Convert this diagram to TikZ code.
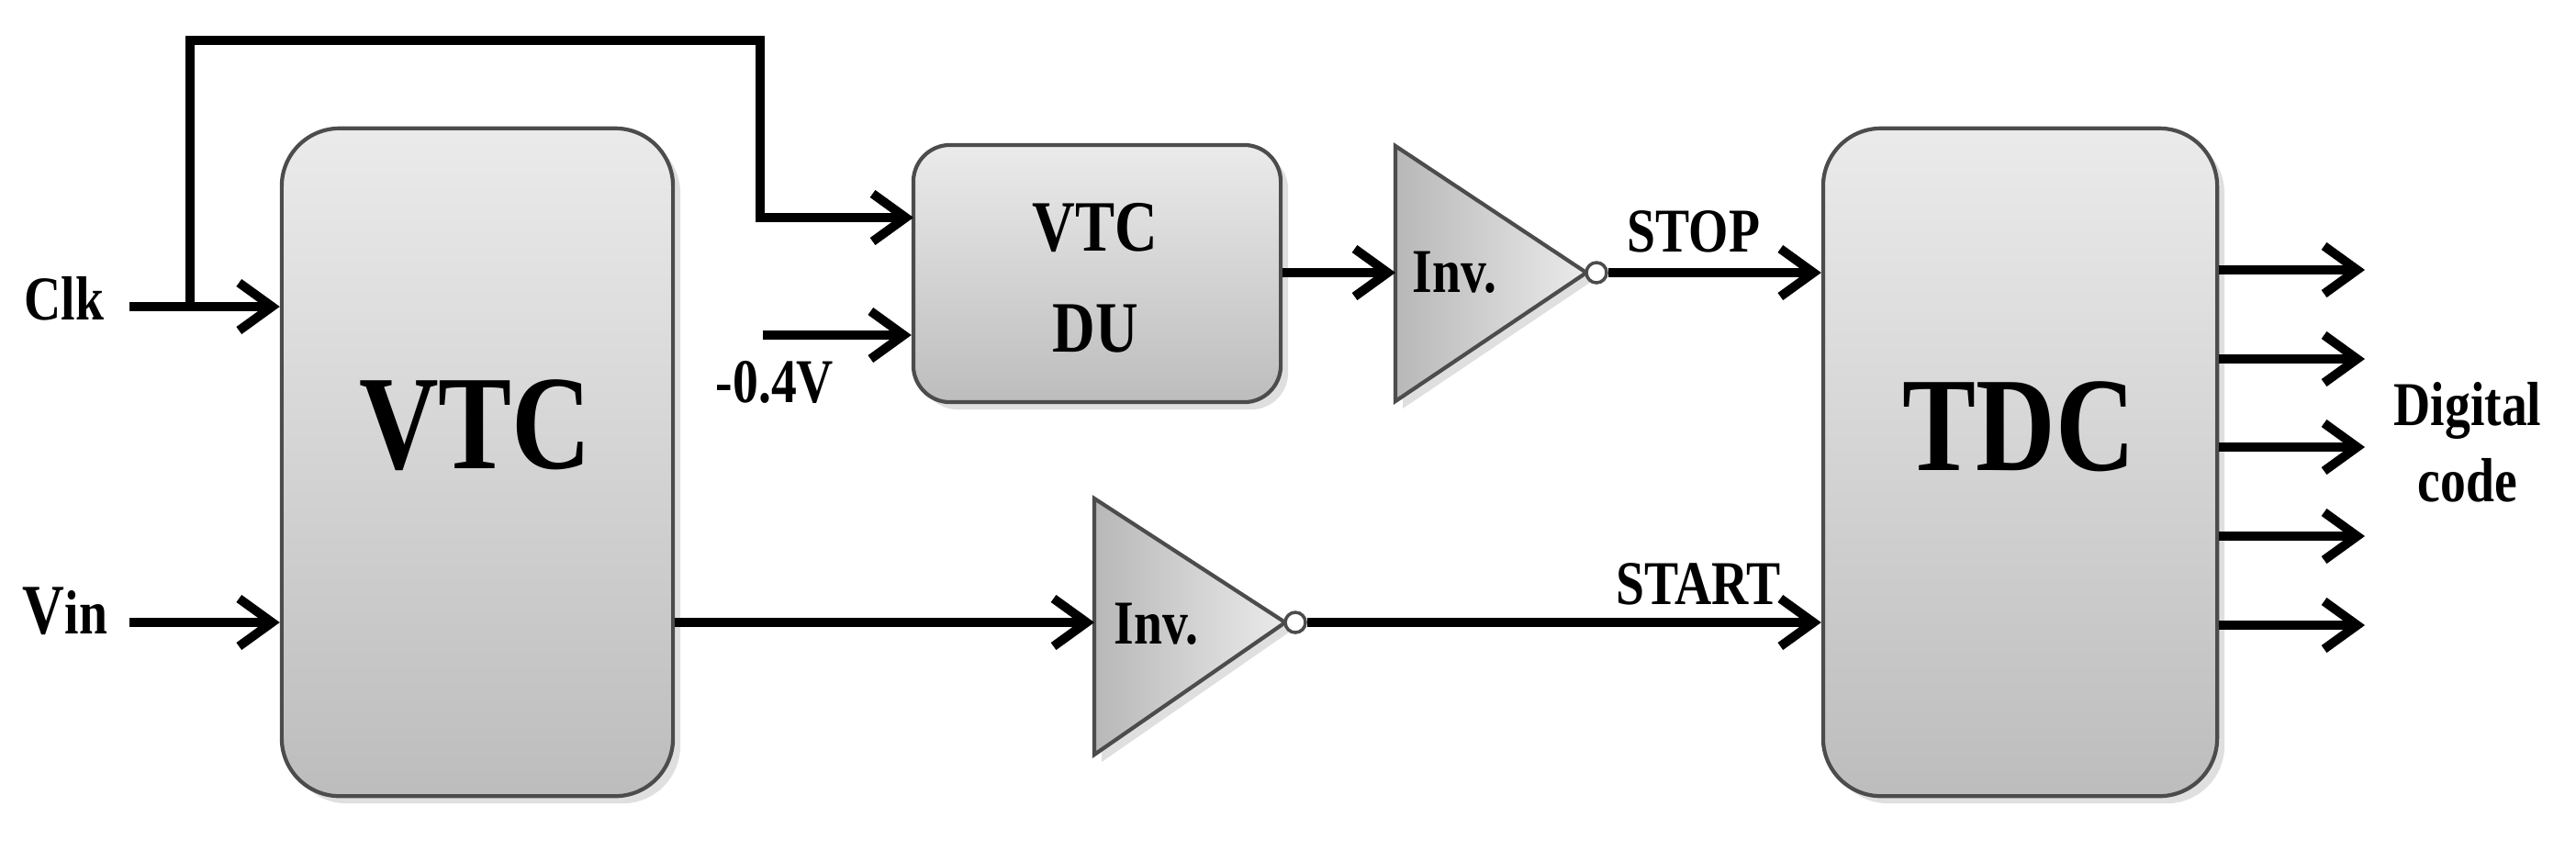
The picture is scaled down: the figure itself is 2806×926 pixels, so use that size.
\documentclass[tikz,border=0pt]{standalone}
\usepackage{fontspec}
\setmainfont{Liberation Serif}[FakeStretch=0.82]
\usetikzlibrary{arrows.meta,shadows}

\tikzset{
  sig/.style={line width=2.8pt, -{Straight Barb[length=3.6mm, width=5.2mm]}},
  wire/.style={line width=2.8pt},
  block/.style={draw=black!70, line width=1.2pt, top color=black!8, bottom color=black!26,
    drop shadow={shadow xshift=0.8mm, shadow yshift=-0.8mm, opacity=0.25}, inner sep=0pt},
  inv/.style={draw=black!70, line width=1.2pt, left color=black!28, right color=black!8,
    drop shadow={shadow xshift=0.8mm, shadow yshift=-0.8mm, opacity=0.25}},
  bubble/.style={circle, draw=black!70, fill=white, line width=1pt, minimum size=2.2mm, inner sep=0pt},
  lbl/.style={font=\bfseries\fontsize{19.3}{23.6}\selectfont, inner sep=0pt},
  big/.style={font=\bfseries\fontsize{41.6}{46}\selectfont, inner sep=0pt},
  mid/.style={font=\bfseries\fontsize{22.4}{27}\selectfont, inner sep=0pt}
}

\begin{document}
\begin{tikzpicture}[x=0.01cm, y=-0.01cm]
\useasboundingbox (0,0) rectangle (2806,926);

% blocks
\node[block, minimum width=4.26cm, minimum height=7.27cm, rounded corners=6.3mm] (vtc) at (520,503.5) {};
\node[block, minimum width=4.29cm, minimum height=7.27cm, rounded corners=6.3mm] (tdc) at (2200.5,503.5) {};
\node[block, minimum width=4cm, minimum height=2.8cm, rounded corners=4mm] (du) at (1195,298) {};

\node[big, anchor=base] (vtclbl) at (518,510) {VTC};
\node[big, anchor=base] (tdclbl) at (2199,512) {TDC};
\node[mid, anchor=base] (dulbl1) at (1193,273) {VTC};
\node[mid, anchor=base] (dulbl2) at (1193,383) {DU};

% inverters
\coordinate (inv1) at (1520,297);
\coordinate (inv2) at (1192,678);
\draw[inv] (inv1) -- ++(0,-138) -- ++(208,138) -- ++(-208,140) -- cycle;
\draw[inv] (inv2) -- ++(0,-135) -- ++(208,135) -- ++(-208,144) -- cycle;
\node[bubble] (b1) at (1739,297) {};
\node[bubble] (b2) at (1411,678) {};
\node[lbl, anchor=base west] (inv1lbl) at (1538,318) {Inv.};
\node[lbl, anchor=base west] (inv2lbl) at (1213,701) {Inv.};

% inputs
\coordinate (clk) at (141,334);
\coordinate (clkj) at (207,334);
\coordinate (top) at (828,44);
\coordinate (duclk) at (995,237);
\coordinate (ref) at (831,365);
\coordinate (vin) at (141,678);

\draw[sig] (clk) -- (clk -| vtc.west);
\draw[sig] (clkj) |- (top) |- (duclk);
\draw[sig] (ref) -- (ref -| du.west);
\draw[sig] (vin) -- (vin -| vtc.west);

\node[lbl, anchor=base] (clklbl) at (70,348) {Clk};
\node[lbl, anchor=base] (vinlbl) at (71,690) {{\fontsize{22}{24}\selectfont V}in};
\node[lbl, anchor=base] (reflbl) at (844,438) {-0.4V};

% signal path
\draw[sig] (du.east |- inv1) -- (inv1);
\draw[sig] (vtc.east |- inv2) -- (inv2);
\draw[sig] (b1.east) -- (b1.east -| tdc.west);
\draw[sig] (b2.east) -- (b2.east -| tdc.west);

\node[lbl, anchor=base] (stoplbl) at (1845,274) {STOP};
\node[lbl, anchor=base] (startlbl) at (1850,658) {START};

% outputs
\foreach \y [count=\i] in {294,391,487,584,681}{
  \coordinate (o\i) at (2576,\y);
  \draw[sig] (o\i -| tdc.east) -- (o\i);
}
\node[lbl, anchor=base] (outlbl1) at (2688,463) {Digital};
\node[lbl, anchor=base] (outlbl2) at (2688,546) {code};

\end{tikzpicture}
\end{document}
